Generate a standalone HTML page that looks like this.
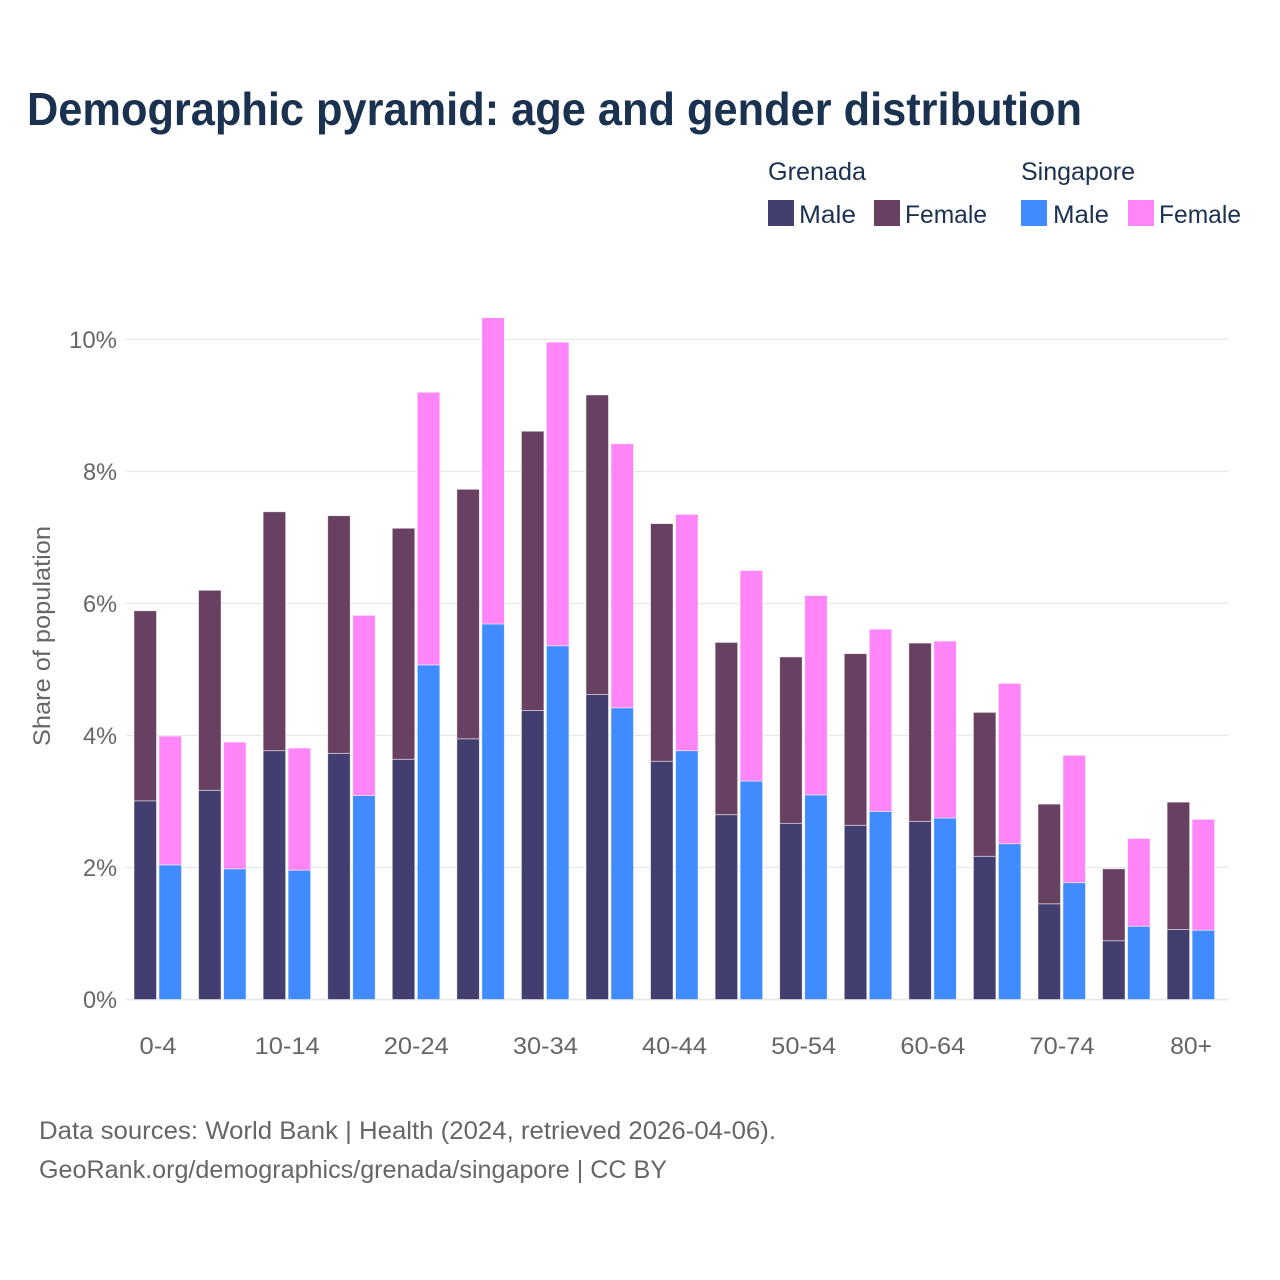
<!DOCTYPE html>
<html lang="en">
<head>
<meta charset="utf-8">
<title>Demographic pyramid: age and gender distribution</title>
<style>
  html, body { margin: 0; padding: 0; background: #fff; }
  svg { display: block; }
  text { font-family: "Liberation Sans", sans-serif; }
</style>
</head>
<body>
<svg id="chart" xmlns="http://www.w3.org/2000/svg" width="1280" height="1280" viewBox="0 0 1280 1280">
  <rect width="1280" height="1280" fill="#ffffff"/>
  <text x="27" y="125" font-size="46" font-weight="700" fill="#1a3150" textLength="1055" lengthAdjust="spacingAndGlyphs">Demographic pyramid: age and gender distribution</text>

  <g font-size="25" fill="#1a3150">
    <text x="768" y="180" textLength="98" lengthAdjust="spacingAndGlyphs">Grenada</text>
    <text x="1021" y="180" textLength="114" lengthAdjust="spacingAndGlyphs">Singapore</text>
    <rect x="768" y="200" width="26" height="26" fill="#433e70"/>
    <text x="799" y="223" textLength="57" lengthAdjust="spacingAndGlyphs">Male</text>
    <rect x="874" y="200" width="26" height="26" fill="#684162"/>
    <text x="905" y="223" textLength="82" lengthAdjust="spacingAndGlyphs">Female</text>
    <rect x="1021" y="200" width="26" height="26" fill="#408bff"/>
    <text x="1053" y="223" textLength="56" lengthAdjust="spacingAndGlyphs">Male</text>
    <rect x="1128" y="200" width="26" height="26" fill="#ff85f9"/>
    <text x="1159" y="223" textLength="82" lengthAdjust="spacingAndGlyphs">Female</text>
  </g>

  <g id="grid"></g>
  <g id="bars"></g>
  <g id="y-axis"></g>
  <g id="x-axis"></g>

  <text transform="translate(50,636) rotate(-90)" text-anchor="middle" font-size="24" fill="#666666" textLength="220" lengthAdjust="spacingAndGlyphs">Share of population</text>

  <text x="39" y="1139" font-size="25" fill="#666666" textLength="737" lengthAdjust="spacingAndGlyphs">Data sources: World Bank | Health (2024, retrieved 2026-04-06).</text>
  <text x="39" y="1178" font-size="25" fill="#666666" textLength="628" lengthAdjust="spacingAndGlyphs">GeoRank.org/demographics/grenada/singapore | CC BY</text>
</svg>
<script>
const categories = ["0-4","5-9","10-14","15-19","20-24","25-29","30-34","35-39","40-44","45-49","50-54","55-59","60-64","65-69","70-74","75-79","80+"];
const shownCategories = ["0-4","10-14","20-24","30-34","40-44","50-54","60-64","70-74","80+"];
const grenadaMale = [3.01,3.17,3.77,3.73,3.64,3.95,4.38,4.62,3.61,2.80,2.67,2.64,2.70,2.17,1.45,0.89,1.06];
const grenadaFemale = [2.88,3.03,3.62,3.60,3.50,3.78,4.23,4.54,3.60,2.61,2.52,2.60,2.70,2.18,1.51,1.09,1.93];
const singaporeMale = [2.04,1.98,1.96,3.09,5.07,5.69,5.36,4.42,3.77,3.31,3.10,2.85,2.75,2.36,1.77,1.11,1.05];
const singaporeFemale = [1.95,1.92,1.85,2.73,4.13,4.64,4.60,4.00,3.58,3.19,3.02,2.76,2.68,2.43,1.93,1.33,1.68];
const yTicks = [0,2,4,6,8,10];

const NS = "http://www.w3.org/2000/svg";
const COLORS = { gm: "#433e70", gf: "#684162", sm: "#408bff", sf: "#ff85f9" };

function yScale(v) { return 999.5 - v * 66; }
function xCenter(i) { return 158 + i * 64.57; }

function drawBar(parent, x, value, base, fill, name) {
  const r = document.createElementNS(NS, "rect");
  r.setAttribute("x", x);
  r.setAttribute("width", 22.5);
  r.setAttribute("y", yScale(base + value));
  r.setAttribute("height", yScale(base) - yScale(base + value));
  r.setAttribute("fill", fill);
  r.setAttribute("stroke", "#ffffff");
  r.setAttribute("stroke-opacity", "0.6");
  r.setAttribute("stroke-width", "0.8");
  
  
  parent.appendChild(r);
}

const gridG = document.getElementById("grid");
const yG = document.getElementById("y-axis");
yTicks.forEach(function (t) {
  const line = document.createElementNS(NS, "line");
  line.setAttribute("x1", 126);
  line.setAttribute("x2", 1228);
  line.setAttribute("y1", yScale(t));
  line.setAttribute("y2", yScale(t));
  line.setAttribute("stroke", "#e8e8e8");
  line.setAttribute("stroke-width", t === 0 ? 1.8 : 1.3);
  
  
  gridG.appendChild(line);

  const label = document.createElementNS(NS, "text");
  label.textContent = t + "%";
  label.setAttribute("x", 117);
  label.setAttribute("y", yScale(t) + 8.5);
  label.setAttribute("text-anchor", "end");
  label.setAttribute("font-size", "24");
  label.setAttribute("fill", "#666666");
  label.setAttribute("textLength", t === 10 ? 48 : 34);
  label.setAttribute("lengthAdjust", "spacingAndGlyphs");
  
  
  yG.appendChild(label);
});

const barsG = document.getElementById("bars");
categories.forEach(function (c, i) {
  const cx = xCenter(i);
  drawBar(barsG, cx - 24, grenadaMale[i], 0, COLORS.gm, "bar-grenada-male-" + c);
  drawBar(barsG, cx - 24, grenadaFemale[i], grenadaMale[i], COLORS.gf, "bar-grenada-female-" + c);
  drawBar(barsG, cx + 1, singaporeMale[i], 0, COLORS.sm, "bar-singapore-male-" + c);
  drawBar(barsG, cx + 1, singaporeFemale[i], singaporeMale[i], COLORS.sf, "bar-singapore-female-" + c);
});

const xG = document.getElementById("x-axis");
shownCategories.forEach(function (c) {
  const label = document.createElementNS(NS, "text");
  label.textContent = c;
  label.setAttribute("x", xCenter(categories.indexOf(c)));
  label.setAttribute("y", 1054);
  label.setAttribute("text-anchor", "middle");
  label.setAttribute("font-size", "24");
  label.setAttribute("fill", "#666666");
  label.setAttribute("textLength", c.length === 5 ? 65 : (c === "0-4" ? 37 : 42));
  label.setAttribute("lengthAdjust", "spacingAndGlyphs");
  
  
  xG.appendChild(label);
});
</script>
</body>
</html>
